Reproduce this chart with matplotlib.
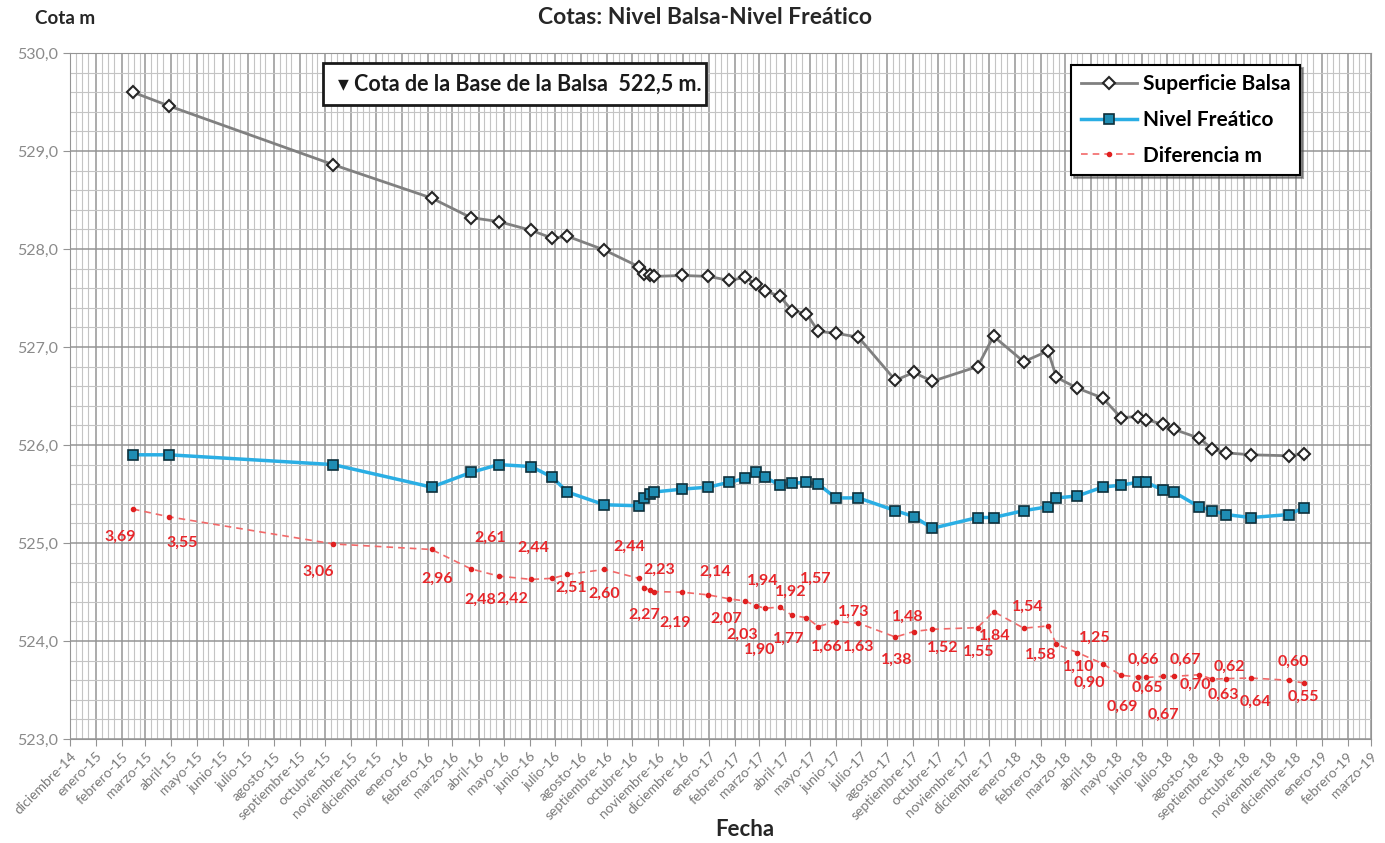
import matplotlib.pyplot as plt
import matplotlib.dates as mdates
from matplotlib.ticker import FuncFormatter, MultipleLocator
from matplotlib.patches import Rectangle
import pandas as pd

plt.rcParams["font.family"] = ["Lato", "DejaVu Sans"]

fechas = pd.to_datetime([
    "2015-02-14", "2015-03-29", "2015-10-11", "2016-02-05", "2016-03-23",
    "2016-04-25", "2016-06-03", "2016-06-28", "2016-07-16", "2016-08-29",
    "2016-10-09", "2016-10-15", "2016-10-22", "2016-10-27", "2016-11-30",
    "2016-12-31", "2017-01-25", "2017-02-13", "2017-02-26", "2017-03-09",
    "2017-03-26", "2017-04-10", "2017-04-27", "2017-05-11", "2017-06-01",
    "2017-06-28", "2017-08-11", "2017-09-02", "2017-09-24", "2017-11-17",
    "2017-12-06", "2018-01-11", "2018-02-09", "2018-02-19", "2018-03-16",
    "2018-04-15", "2018-05-07", "2018-05-27", "2018-06-06", "2018-06-26",
    "2018-07-09", "2018-08-08", "2018-08-24", "2018-09-09", "2018-10-09",
    "2018-11-23", "2018-12-11",
])

superficie = [
    529.60, 529.46, 528.86, 528.52, 528.32, 528.28, 528.19, 528.11, 528.13, 527.99,
    527.82, 527.75, 527.73, 527.72, 527.73, 527.72, 527.68, 527.71, 527.64, 527.57,
    527.52, 527.37, 527.34, 527.16, 527.14, 527.10, 526.66, 526.74, 526.65, 526.80,
    527.11, 526.85, 526.96, 526.69, 526.58, 526.48, 526.28, 526.29, 526.26, 526.21,
    526.16, 526.07, 525.96, 525.92, 525.90, 525.89, 525.91,
]

freatico = [
    525.90, 525.90, 525.80, 525.57, 525.72, 525.80, 525.78, 525.67, 525.52, 525.39,
    525.38, 525.46, 525.50, 525.52, 525.55, 525.57, 525.62, 525.66, 525.72, 525.67,
    525.59, 525.61, 525.62, 525.60, 525.46, 525.46, 525.33, 525.27, 525.15, 525.26,
    525.26, 525.33, 525.37, 525.46, 525.48, 525.57, 525.59, 525.62, 525.62, 525.54,
    525.52, 525.37, 525.33, 525.29, 525.26, 525.29, 525.36,
]

diferencia = [
    3.69, 3.55, 3.06, 2.96, 2.61, 2.48, 2.42, 2.44, 2.51, 2.60,
    2.44, 2.27, 2.23, 2.20, 2.19, 2.14, 2.07, 2.03, 1.94, 1.90,
    1.92, 1.77, 1.73, 1.57, 1.66, 1.63, 1.38, 1.48, 1.52, 1.55,
    1.84, 1.54, 1.58, 1.25, 1.10, 0.90, 0.69, 0.66, 0.65, 0.67,
    0.67, 0.70, 0.62, 0.63, 0.64, 0.60, 0.55,
]

meses = ["enero", "febrero", "marzo", "abril", "mayo", "junio", "julio",
         "agosto", "septiembre", "octubre", "noviembre", "diciembre"]

# label offsets in pixels (dx right, dy down); None = label hidden
offs = [
    (-13, 28), (13, 26), (-15, 28), (6, 29), (19, -31), (-18, 24), (-19, 19),
    (-19, -31), (4, 13), (0, 24), (-9, -32), (1, 27), (10, -20), None,
    (-7, 31), (7, -23), (-3, 20), (-3, 34), (7, -25), (-6, 42), (11, -15),
    (-4, 23), (47, -6), (-3, -48), (-9, 25), (0, 24), (1, 23), (-6, -15),
    (10, 19), (1, 24), (1, 24), (4, -21), (-7, 29), (38, -6), (1, 14),
    (-13, 19), (1, 32), (6, -17), (1, 10), (0, 38), (11, -17), (-4, 10),
    (17, -12), (-3, 16), (4, 24), (5, -18), (-1, 14),
]

W, H = 1385, 843
fig = plt.figure(figsize=(W / 100, H / 100), dpi=100)
ax = fig.add_axes([70 / W, 1 - 739 / H, (1371 - 70) / W, (739 - 53) / H])

l1, = ax.plot(fechas, superficie, color="#808080", lw=2, marker="D", ms=6,
              mfc="white", mec="#262626", mew=1.5, label="Superficie Balsa", zorder=3)
l2, = ax.plot(fechas, freatico, color="#2aaee4", lw=2.5, marker="s", ms=6.5,
              mfc="#1f8db3", mec="#0d2f3a", mew=1.2, label="Nivel Freático", zorder=3)

ax.set_ylim(523, 530)
ax.set_xlim(pd.Timestamp("2014-12-01"), pd.Timestamp("2019-03-01"))
ax.yaxis.set_major_locator(MultipleLocator(1))
ax.yaxis.set_minor_locator(MultipleLocator(0.2))
ax.yaxis.set_major_formatter(FuncFormatter(lambda v, p: f"{v:.1f}".replace(".", ",")))
ax.xaxis.set_major_locator(mdates.MonthLocator())
ax.xaxis.set_minor_locator(mdates.DayLocator(bymonthday=[8, 15, 22]))
ticks = pd.date_range("2014-12-01", "2019-03-01", freq="MS")
ax.set_xticks(ticks)
ax.set_xticklabels([f"{meses[t.month - 1]}-{t.year % 100:02d}" for t in ticks],
                   rotation=45, ha="right", rotation_mode="anchor")
ax.grid(which="major", color="#949494", lw=1.1)
ax.grid(which="minor", color="#c4c4c4", lw=0.8)
ax.set_axisbelow(True)
ax.tick_params(axis="x", which="major", length=5, color="#949494", labelsize=10,
               labelcolor="#7a7a7a", pad=3)
ax.tick_params(axis="y", which="major", length=5, color="#949494", labelsize=11.5,
               labelcolor="#8a8a8a")
ax.tick_params(which="minor", length=0)
for s in ax.spines.values():
    s.set_color("#949494")

ax2 = ax.twinx()
ax2.set_ylim(-0.46, 11.92)
ax2.set_axis_off()
l3, = ax2.plot(fechas, diferencia, color="#f26868", lw=1.2, ls=(0, (4, 3)), marker="o",
               ms=3, mfc="#e02020", mec="#e02020", label="Diferencia m")
for f, d, o in zip(fechas, diferencia, offs):
    if o is None:
        continue
    ax2.annotate(f"{d:.2f}".replace(".", ","), (f, d), xytext=(o[0], -o[1]),
                 textcoords="offset pixels", ha="center", va="center",
                 color="#e8262a", fontsize=11.5, fontweight="bold")

leg = ax2.legend(handles=[l1, l2, l3], loc="upper right",
                 bbox_to_anchor=(1300 / W, 1 - 65 / H), bbox_transform=fig.transFigure,
                 borderaxespad=0, fancybox=False, shadow=True, framealpha=1,
                 edgecolor="black", prop={"size": 15, "weight": "bold"},
                 labelspacing=0.75, handlelength=2.7, handletextpad=0.3,
                 borderpad=0.45)
leg.get_frame().set_linewidth(1.5)

fig.patches.append(Rectangle((323 / W, 1 - 105 / H), 383 / W, 42 / H,
                             transform=fig.transFigure, fc="white", ec="#1a1a1a",
                             lw=2, zorder=5))
fig.text(520 / W, 1 - 84 / H, "▾ Cota de la Base de la Balsa  522,5 m.",
         ha="center", va="center", fontsize=15.5, fontweight="bold", color="#1a1a1a",
         zorder=6)

fig.text(705 / W, 1 - 18 / H, "Cotas: Nivel Balsa-Nivel Freático", ha="center",
         va="center", fontsize=16.5, fontweight="bold", color="#262626")
fig.text(35 / W, 1 - 18 / H, "Cota m", ha="left", va="center", fontsize=13.5,
         fontweight="bold", color="#262626")
fig.text(745 / W, 1 - 830 / H, "Fecha", ha="center", va="center", fontsize=16,
         fontweight="bold", color="#262626")

fig.savefig("out.png", dpi=100)
